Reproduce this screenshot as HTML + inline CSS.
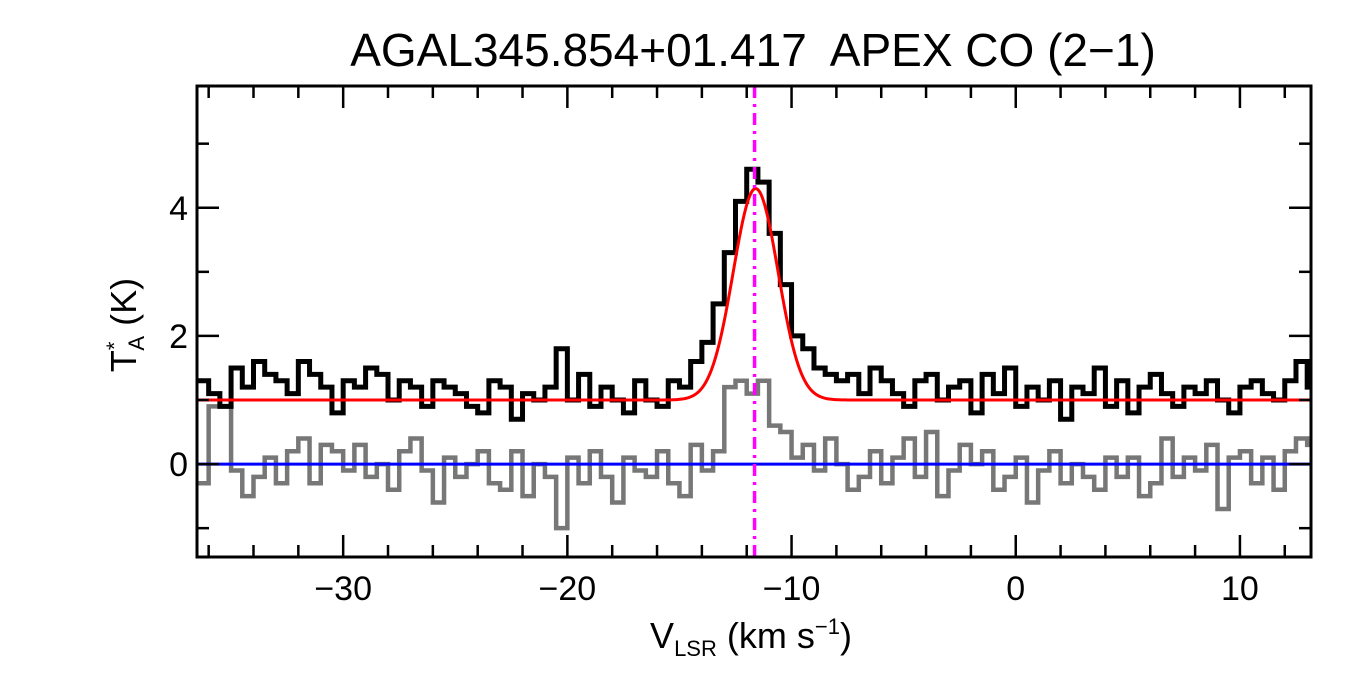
<!DOCTYPE html>
<html><head><meta charset="utf-8"><style>
body{margin:0;background:#fff;}
svg{display:block;font-family:"Liberation Sans",sans-serif;}
</style></head><body>
<svg id="chart" width="1350" height="675" viewBox="0 0 1350 675" xmlns="http://www.w3.org/2000/svg">
<rect width="1350" height="675" fill="#fff"/>
<text x="753" y="66" font-size="46" text-anchor="middle" xml:space="preserve">AGAL345.854+01.417  APEX CO (2−1)</text>
<g id="plot"></g>
<text x="751" y="648" font-size="36" text-anchor="middle">V<tspan font-size="22" dy="8">LSR</tspan><tspan dy="-8"> (km s</tspan><tspan font-size="22" dy="-14">−1</tspan><tspan dy="14">)</tspan></text>
<text transform="translate(136,325) rotate(-90)" font-size="36" text-anchor="middle">T<tspan font-size="22" dy="-14">*</tspan><tspan font-size="22" dx="-9" dy="22">A</tspan><tspan dy="-8"> (K)</tspan></text>
</svg>
<script>
const v0 = -36.5, chanWidth = 0.5;
const blackSpec = [1.3,1.1,0.9,1.5,1.2,1.6,1.4,1.3,1.1,1.6,1.4,1.2,0.8,1.3,1.2,1.5,1.4,1.0,1.3,1.2,0.9,1.3,1.2,1.1,0.9,0.8,1.3,1.2,0.7,1.1,1.0,1.2,1.8,1.0,1.4,0.9,1.2,1.0,0.8,1.3,1.0,0.9,1.3,1.2,1.6,1.9,2.5,3.3,4.1,4.6,4.4,3.6,2.8,2.0,1.8,1.5,1.4,1.3,1.4,1.1,1.5,1.3,1.1,0.9,1.3,1.4,1.0,1.2,1.3,0.8,1.4,1.1,1.5,0.9,1.2,1.0,1.3,0.7,1.2,1.1,1.5,0.9,1.3,0.8,1.2,1.4,1.1,0.9,1.2,1.1,1.3,1.0,0.8,1.2,1.3,1.1,1.0,1.3,1.6,1.2];
const graySpec = [-0.3,0.9,0.9,-0.1,-0.5,-0.2,0.1,-0.3,0.2,0.4,-0.3,0.3,0.2,-0.1,0.3,-0.2,0.0,-0.4,0.2,0.4,-0.1,-0.6,0.1,-0.2,0.0,0.2,-0.3,-0.4,0.2,-0.5,0.0,-0.2,-1.0,0.1,-0.3,0.2,-0.2,-0.6,0.1,-0.1,-0.2,0.2,-0.3,-0.5,0.3,-0.1,0.2,1.2,1.3,1.1,1.3,0.6,0.5,0.1,0.3,-0.1,0.4,0.0,-0.4,-0.2,0.2,-0.3,0.1,0.4,-0.2,0.5,-0.5,-0.1,0.3,0.0,0.2,-0.4,-0.2,0.1,-0.6,-0.1,0.2,-0.3,0.0,-0.2,-0.4,0.1,-0.2,0.1,-0.5,-0.3,0.4,-0.2,0.1,-0.1,0.3,-0.7,0.1,0.2,-0.3,0.1,-0.4,0.2,0.4,0.3];
const fitBase = 1.0, fitAmp = 3.3, fitCenter = -11.6, fitSigma = 1.0;
const markerV = -11.65;
const xTicks = [-30,-20,-10,0,10];
const yTicks = [0,2,4];

const L=197,R=1311,T=86,B=557, xmin=-36.52,xmax=13.17,ymin=-1.45,ymax=5.9;
const X=v=>L+(v-xmin)/(xmax-xmin)*(R-L);
const Y=t=>B-(t-ymin)/(ymax-ymin)*(B-T);
const NS="http://www.w3.org/2000/svg";
const g=document.getElementById('plot');
function mk(tag,attrs){const e=document.createElementNS(NS,tag);for(const k in attrs)e.setAttribute(k,attrs[k]);g.appendChild(e);return e;}
const clip=document.createElementNS(NS,'clipPath');clip.id='cp';
const cr=document.createElementNS(NS,'rect');cr.setAttribute('x',L);cr.setAttribute('y',T);cr.setAttribute('width',R-L);cr.setAttribute('height',B-T);
clip.appendChild(cr);g.appendChild(clip);
function stepPath(arr){let d='';arr.forEach((t,i)=>{const a=X(v0+i*chanWidth),b=X(v0+(i+1)*chanWidth),y=Y(t);d+=(i?'L':'M')+a+','+y+'L'+b+','+y;});return d;}
const gs=mk('path',{d:stepPath(graySpec),fill:'none',stroke:'#777','stroke-width':4.5,'clip-path':'url(#cp)'});


const bs=mk('path',{d:stepPath(blackSpec),fill:'none',stroke:'#000','stroke-width':5,'clip-path':'url(#cp)'});


const zl=mk('line',{x1:L,x2:R,y1:Y(0),y2:Y(0),stroke:'#0000ff','stroke-width':3});


let fd='';for(let v=xmin;v<=xmax;v+=0.05){const t=fitBase+fitAmp*Math.exp(-0.5*((v-fitCenter)/fitSigma)**2);fd+=(fd?'L':'M')+X(v)+','+Y(t);}
const fit=mk('path',{d:fd,fill:'none',stroke:'#ff0000','stroke-width':3});


const mv=mk('line',{x1:X(markerV),x2:X(markerV),y1:T,y2:B,stroke:'#ff00ff','stroke-width':3.5,'stroke-dasharray':'12,6,3,6'});


const fr=mk('rect',{x:L,y:T,width:R-L,height:B-T,fill:'none',stroke:'#000','stroke-width':3});


for(let v=-36;v<=13;v+=2){const maj=v%10===0,len=maj?22:12,x=X(v);
 const t1=mk('line',{x1:x,x2:x,y1:B,y2:B-len,stroke:'#000','stroke-width':2.5});
 
 
 const t2=mk('line',{x1:x,x2:x,y1:T,y2:T+len,stroke:'#000','stroke-width':2.5});
 
 }
xTicks.forEach(v=>{const t=mk('text',{x:X(v),y:600,'font-size':34,'text-anchor':'middle'});t.textContent=(v<0?'−':'')+Math.abs(v);
 
 });
for(let t=-1;t<=5;t++){const maj=t%2===0,len=maj?22:12,y=Y(t);
 const a=mk('line',{x1:L,x2:L+len,y1:y,y2:y,stroke:'#000','stroke-width':2.5});
 
 
 const b=mk('line',{x1:R,x2:R-len,y1:y,y2:y,stroke:'#000','stroke-width':2.5});
 
 }
yTicks.forEach(t=>{const e=mk('text',{x:188,y:Y(t)+12,'font-size':34,'text-anchor':'end'});e.textContent=t;
 
 });
</script>
</body></html>
